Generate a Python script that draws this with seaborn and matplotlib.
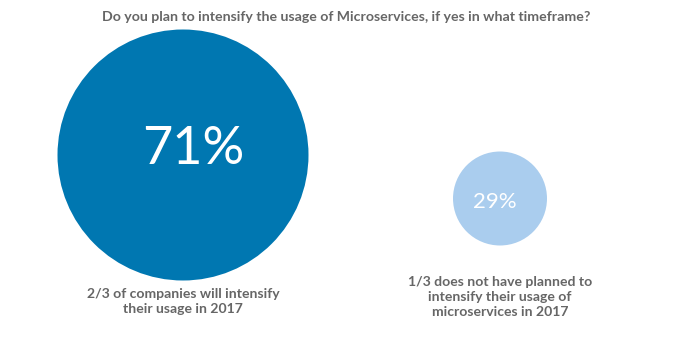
import matplotlib
matplotlib.use("Agg")
import matplotlib.pyplot as plt
import seaborn as sns
import pandas as pd

# Survey answers
categories = ["Will intensify", "No plans"]
values = [71, 29]
captions = [
    "2/3 of companies will intensify\ntheir usage in 2017",
    "1/3 does not have planned to\nintensify their usage of\nmicroservices in 2017",
]
title = "Do you plan to intensify the usage of Microservices, if yes in what timeframe?"

colors = ["#0077B1", "#AACDEE"]
gray = "#666666"

sns.set_theme(style="white")
plt.rcParams["font.family"] = ["Lato", "DejaVu Sans"]

W, H = 689, 337
fig = plt.figure(figsize=(W / 100, H / 100), dpi=100)
ax = fig.add_axes([0, 0, 1, 1])

# layout: bubble centres (pixels, y down)
cx = [183, 500]
cy = [155, 198.5]

df = pd.DataFrame({"cat": categories, "value": values, "x": cx, "y": cy})
sns.scatterplot(
    data=df, x="x", y="y", hue="cat", palette=colors, size="value",
    sizes=(4580, 32660), size_norm=(min(values), max(values)),
    legend=False, linewidth=0, ax=ax,
)

ax.set_xlim(0, W)
ax.set_ylim(H, 0)
ax.axis("off")

# percentage labels, slightly off-centre within the bubbles
label_pos = [(193, 150), (494.5, 202)]
label_sizes = [37.5, 16]
for (x, y), v, fs in zip(label_pos, values, label_sizes):
    ax.text(x, y, f"{v}%", ha="center", va="center", color="white",
            fontsize=fs, fontweight="normal")

ax.text(W / 2 + 2, 17, title, ha="center", va="center", color=gray,
        fontsize=10.2, fontweight="bold")

cap_x = [183, 500]
cap_top = [288, 276]
for x, y, c in zip(cap_x, cap_top, captions):
    ax.text(x, y, c, ha="center", va="top", color=gray, fontsize=10.1,
            fontweight="bold", linespacing=1.3)

fig.savefig("out.png", dpi=100)
